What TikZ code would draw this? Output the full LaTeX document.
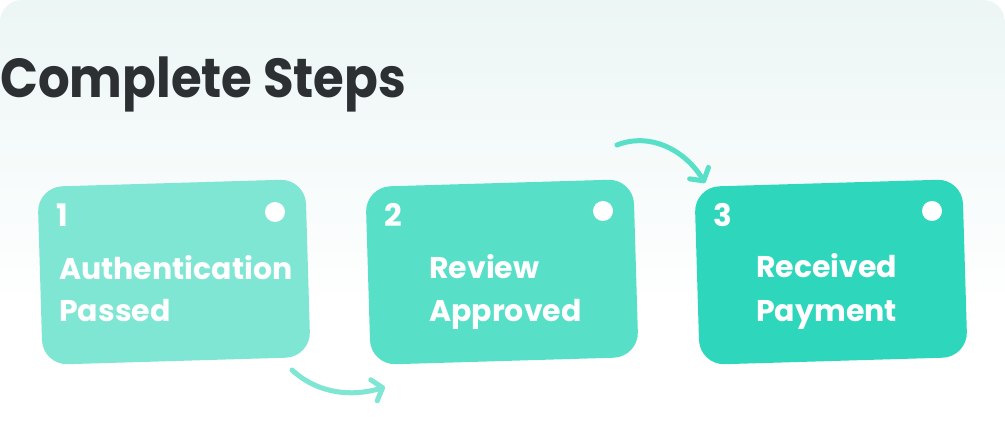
\documentclass[tikz,border=0pt]{standalone}
\usepackage{fontspec}
\setmainfont{Poppins}
\newfontfamily\titlefont{Poppins}[FakeStretch=0.905]
\usetikzlibrary{arrows.meta}
\definecolor{bgtop}{RGB}{236,246,245}
\definecolor{titlec}{RGB}{45,48,51}
\definecolor{cardA}{RGB}{128,230,212}
\definecolor{cardB}{RGB}{87,223,200}
\definecolor{cardC}{RGB}{46,215,188}
\tikzset{
  card/.style={draw=none, rounded corners=25pt, minimum width=268pt, minimum height=178pt, rotate=1.7, inner sep=0pt},
  dotmark/.style={circle, fill=white, minimum size=20pt, inner sep=0pt},
  numlbl/.style={text=white, font=\fontsize{31}{36}\selectfont\bfseries, anchor=base west, inner sep=0pt},
  steplbl/.style={text=white, font=\fontsize{30}{36}\selectfont\bfseries, anchor=base west, inner sep=0pt},
  flow/.style={line width=5pt, line cap=round, -{Straight Barb[length=9pt,width=22pt,round]}},
}
\begin{document}
\begin{tikzpicture}[x=1pt,y=-1pt]
\useasboundingbox (0,0) rectangle (1005,435);
\fill[white] (0,0) rectangle (1005,435);
\shade[top color=bgtop, bottom color=white, rounded corners=22pt] (0,0) rectangle (1005,310);
\node[anchor=base west, inner sep=0pt, text=titlec, font=\titlefont\fontsize{55}{60}\selectfont\bfseries] (title) at (0,98) {Complete Steps};
% cards
\node[card, fill=cardA] (c1) at (174,272) {};
\node[card, fill=cardB] (c2) at (502,272) {};
\node[card, fill=cardC] (c3) at (831,272) {};
% dots
\node[dotmark] (d1) at (275,212) {};
\node[dotmark] (d2) at (603,211) {};
\node[dotmark] (d3) at (932,211) {};
% numbers
\node[numlbl] (n1) at (56,227) {1};
\node[numlbl] (n2) at (384,227) {2};
\node[numlbl] (n3) at (713,227) {3};
% labels
\node[steplbl] (t1a) at (59,280) {Authentication};
\node[steplbl] (t1b) at (59,322) {Passed};
\node[steplbl] (t2a) at (429,279) {Review};
\node[steplbl] (t2b) at (429,322) {Approved};
\node[steplbl] (t3a) at (756,278) {Received};
\node[steplbl] (t3b) at (756,322) {Payment};
% arrows
\coordinate (a1s) at (292,370);
\coordinate (a1e) at (385,387);
\coordinate (a2s) at (617,145);
\coordinate (a2e) at (705,183);
\draw[flow, draw=cardA] (a1s) .. controls (318,394) and (352,397) .. (a1e);
\draw[flow, draw=cardB] (a2s) .. controls (650,132) and (685,150) .. (a2e);
\end{tikzpicture}
\end{document}
